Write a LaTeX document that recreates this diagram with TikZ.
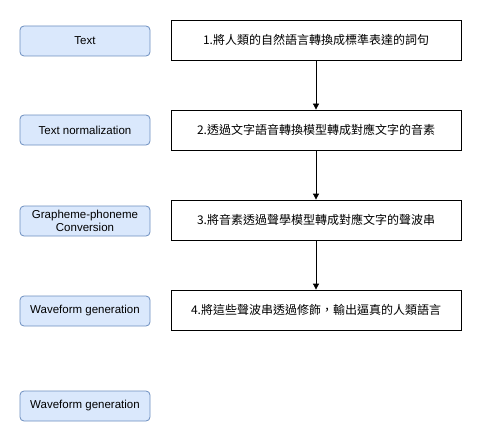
\documentclass[tikz,border=0pt]{standalone}
\usepackage{fontspec}
\setmainfont{Liberation Sans}
\newfontfamily\cjk{Noto Sans CJK TC}
\usetikzlibrary{arrows.meta}
\definecolor{bfill}{HTML}{DAE8FC}
\definecolor{bdraw}{HTML}{6C8EBF}
\tikzset{
  lbox/.style={draw=bdraw, fill=bfill, rounded corners=4pt, minimum width=130pt, minimum height=30pt, inner sep=0pt, align=center, font=\fontsize{11.5}{13}\selectfont, line width=0.8pt},
  rbox/.style={draw=black, fill=white, minimum width=290pt, minimum height=40pt, inner sep=0pt, font=\cjk\fontsize{12}{14}\selectfont, line width=0.8pt},
  conn/.style={draw=black, line width=0.8pt, -{Triangle[length=6pt,width=6pt]}}
}
\begin{document}
\begin{tikzpicture}[x=1pt,y=-1pt]
\useasboundingbox (0,0) rectangle (481,441);
\node[lbox] (l1) at (85,41) {Text};
\node[lbox] (l2) at (85,130) {Text normalization};
\node[lbox] (l3) at (85,221) {Grapheme-phoneme\\Conversion};
\node[lbox] (l4) at (85,311) {Waveform generation};
\node[lbox] (l5) at (85,406) {Waveform generation};
\node[rbox] (r1) at (316,40) {1.將人類的自然語言轉換成標準表達的詞句};
\node[rbox] (r2) at (316,130) {2.透過文字語音轉換模型轉成對應文字的音素};
\node[rbox] (r3) at (316,220) {3.將音素透過聲學模型轉成對應文字的聲波串};
\node[rbox] (r4) at (316,310) {4.將這些聲波串透過修飾，輸出逼真的人類語言};
\draw[conn] (r1) -- (r2);
\draw[conn] (r2) -- (r3);
\draw[conn] (r3) -- (r4);
\end{tikzpicture}
\end{document}
